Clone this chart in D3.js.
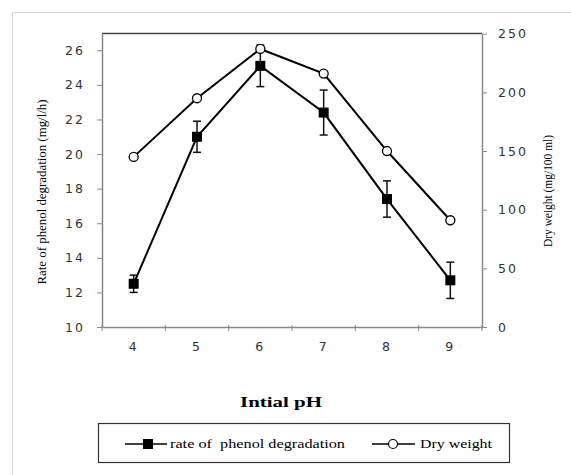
<!DOCTYPE html>
<html><head><meta charset="utf-8">
<script src="https://cdn.jsdelivr.net/npm/d3@7"></script>
<style>body{margin:0;background:#fff}</style>
</head><body>
<svg id="c" width="571" height="475"></svg>
<script>
const categories = [4, 5, 6, 7, 8, 9];
const rateValues = [12.5, 21.0, 25.1, 22.4, 17.4, 12.7];
const rateErrors = [0.5, 0.9, 1.2, 1.3, 1.05, 1.05];
const dryWeight = [145, 195, 237, 216, 150, 91];
const leftTicks = [10, 12, 14, 16, 18, 20, 22, 24, 26];
const rightTicks = [0, 50, 100, 150, 200, 250];
const seriesNames = ["rate of  phenol degradation", "Dry weight"];

const svg = d3.select("#c");
const m = {l: 102, r: 482, t: 33, b: 327};

// outer dotted frame
svg.append("rect").attr("x", 12.5).attr("y", 12.5).attr("width", 600).attr("height", 500)
  .attr("fill", "none").attr("stroke", "#aaa").attr("stroke-dasharray", "1,1");

const x = d3.scaleBand().domain(categories).range([m.l, m.r]);
const yL = d3.scaleLinear().domain([10, 27]).range([m.b, m.t]);
const yR = d3.scaleLinear().domain([0, 250]).range([m.b, m.t + 0.7]);

// top border
svg.append("line").attr("x1", m.l).attr("x2", m.r).attr("y1", m.t + 0.5).attr("y2", m.t + 0.5)
  .attr("stroke", "#444").attr("stroke-width", 1.5);

const tickFont = g => g.selectAll("text").style("font-family", "'DejaVu Sans', Verdana, sans-serif")
  .attr("font-size", 12.5).attr("letter-spacing", 2).attr("fill", "#333");

const gl = svg.append("g").attr("transform", `translate(${m.l},0)`)
  .call(d3.axisLeft(yL).tickValues(leftTicks).tickSize(5).tickPadding(12).tickSizeOuter(0));
gl.call(tickFont);
const gr = svg.append("g").attr("transform", `translate(${m.r},0)`)
  .call(d3.axisRight(yR).tickValues(rightTicks).tickSize(5).tickPadding(11).tickSizeOuter(0));
gr.call(tickFont);
const gx = svg.append("g").attr("transform", `translate(0,${m.b})`)
  .call(d3.axisBottom(x).tickSize(0).tickPadding(15).tickSizeOuter(0));
gx.call(tickFont);
// x ticks between categories
gx.selectAll("line.sep").data(d3.range(categories.length + 1)).enter().append("line")
  .attr("class", "sep")
  .attr("x1", i => m.l + i * x.step()).attr("x2", i => m.l + i * x.step())
  .attr("y1", -2).attr("y2", 4).attr("stroke", "#888");
[gl, gr, gx].forEach(g => {
  g.select(".domain").attr("stroke", "#888").attr("stroke-width", 1.5);
  g.selectAll(".tick line").attr("stroke", "#888");
});

const cx = d => x(d) + x.bandwidth() / 2;

// rate line
const lineRate = d3.line().x((d, i) => cx(categories[i])).y(d => yL(d));
svg.append("path").datum(rateValues).attr("d", lineRate)
  .attr("fill", "none").attr("stroke", "#000").attr("stroke-width", 2);
// dry weight line
const lineDry = d3.line().x((d, i) => cx(categories[i])).y(d => yR(d));
svg.append("path").datum(dryWeight).attr("d", lineDry)
  .attr("fill", "none").attr("stroke", "#000").attr("stroke-width", 2);

// error bars
const eb = svg.append("g").attr("stroke", "#111").attr("stroke-width", 1.5);
rateValues.forEach((v, i) => {
  const X = cx(categories[i]);
  const y1 = yL(v + rateErrors[i]), y2 = yL(v - rateErrors[i]);
  eb.append("line").attr("x1", X).attr("x2", X).attr("y1", y1).attr("y2", y2);
  eb.append("line").attr("x1", X - 4).attr("x2", X + 4).attr("y1", y1).attr("y2", y1);
  eb.append("line").attr("x1", X - 4).attr("x2", X + 4).attr("y1", y2).attr("y2", y2);
});

// markers
svg.append("g").selectAll("rect").data(rateValues).enter().append("rect")
  .attr("x", (d, i) => cx(categories[i]) - 5).attr("y", d => yL(d) - 5)
  .attr("width", 10).attr("height", 10).attr("fill", "#000");
svg.append("g").selectAll("circle").data(dryWeight).enter().append("circle")
  .attr("cx", (d, i) => cx(categories[i])).attr("cy", d => yR(d)).attr("r", 4.5)
  .attr("fill", "#fff").attr("stroke", "#000").attr("stroke-width", 1.3);

// axis titles
const serif = "'Liberation Serif', 'Times New Roman', serif";
svg.append("text").attr("transform", "translate(46,192) rotate(-90)")
  .attr("text-anchor", "middle").style("font-family", serif).attr("font-size", 12.5)
  .attr("textLength", 185).attr("lengthAdjust", "spacingAndGlyphs")
  .text("Rate of phenol degradation (mg/l/h)");
svg.append("text").attr("transform", "translate(552,191) rotate(-90)")
  .attr("text-anchor", "middle").style("font-family", serif).attr("font-size", 12.5)
  .attr("textLength", 112).attr("lengthAdjust", "spacingAndGlyphs")
  .text("Dry weight (mg/100 ml)");
svg.append("text").attr("x", 281).attr("y", 407)
  .attr("text-anchor", "middle").style("font-family", serif).attr("font-size", 15).attr("font-weight", "bold")
  .attr("textLength", 82).attr("lengthAdjust", "spacingAndGlyphs")
  .text("Intial pH");

// legend
const lg = svg.append("g");
lg.append("rect").attr("x", 98.5).attr("y", 423.5).attr("width", 411).attr("height", 39)
  .attr("fill", "#fff").attr("stroke", "#333").attr("stroke-width", 1.2);
const ly = 444;
lg.append("line").attr("x1", 125).attr("x2", 167).attr("y1", ly).attr("y2", ly).attr("stroke", "#000").attr("stroke-width", 1.5);
lg.append("rect").attr("x", 143).attr("y", ly - 5).attr("width", 10).attr("height", 10).attr("fill", "#000");
lg.append("text").attr("x", 170).attr("y", ly + 4).style("font-family", serif).attr("font-size", 12.5)
  .attr("textLength", 175).attr("lengthAdjust", "spacingAndGlyphs").style("white-space", "pre")
  .text(seriesNames[0]);
lg.append("line").attr("x1", 372).attr("x2", 415).attr("y1", ly).attr("y2", ly).attr("stroke", "#000").attr("stroke-width", 1.5);
lg.append("circle").attr("cx", 393).attr("cy", ly).attr("r", 4.5).attr("fill", "#fff").attr("stroke", "#000").attr("stroke-width", 1.2);
lg.append("text").attr("x", 420).attr("y", ly + 4).style("font-family", serif).attr("font-size", 12.5)
  .attr("textLength", 72).attr("lengthAdjust", "spacingAndGlyphs")
  .text(seriesNames[1]);
</script>
</body></html>
